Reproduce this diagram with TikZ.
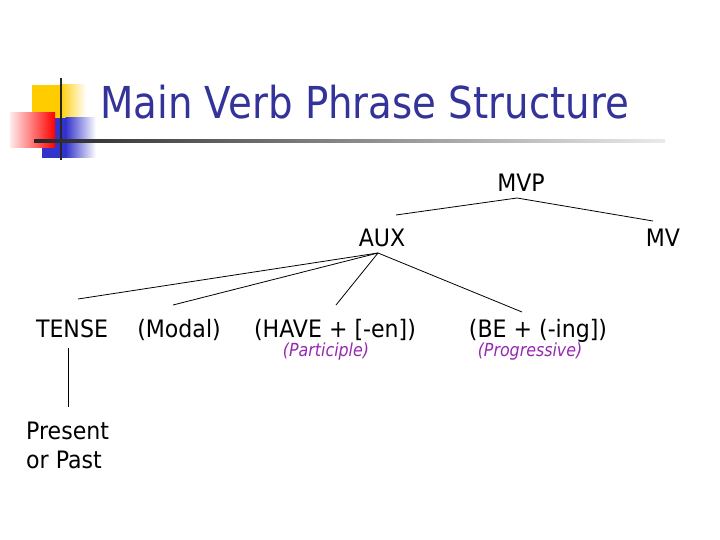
\documentclass[tikz,border=0pt]{standalone}
\usepackage{fontspec}
\setmainfont[FakeStretch=0.88]{DejaVu Sans}
\newfontfamily\treefont[FakeStretch=0.92]{DejaVu Sans}
\definecolor{navy}{RGB}{51,51,153}
\definecolor{purp}{RGB}{150,40,175}
\definecolor{gold}{RGB}{255,204,0}
\definecolor{blu}{RGB}{51,51,204}
\begin{document}
\begin{tikzpicture}[x=1pt,y=-1pt,
  lbl/.style={anchor=base,inner sep=0pt,font=\treefont\fontsize{24}{29}\selectfont},
  sub/.style={anchor=base,inner sep=0pt,font=\fontsize{18}{21}\selectfont\itshape,text=purp},
  edge/.style={draw=black,line width=0.8pt}]
\useasboundingbox[fill=white] (0,0) rectangle (720,540);
% logo
\fill[gold] (32,85) rectangle (60,118);
\shade[left color=gold,right color=white] (59.5,85) rectangle (86,118);
\fill[blu] (42,118) rectangle (66,158);
\shade[left color=blu,right color=white] (65.5,118) rectangle (96,158);
\shade[left color=red!8,right color=red] (10,113) rectangle (55,148);
\draw[line width=2pt,black!85] (61,78) -- (61,160);
\shade[left color=black!85,middle color=black!55,right color=black!8] (34,139.5) rectangle (665,142.5);
% title
\node[anchor=base west,inner sep=0pt,text=navy,font=\fontsize{44}{50}\selectfont] (title) at (100,119) {Main Verb Phrase Structure};
% tree labels
\node[lbl] (mvp) at (521,192) {MVP};
\node[lbl] (aux) at (382,247) {AUX};
\node[lbl] (mv) at (663,247) {MV};
\node[lbl] (tense) at (72,337) {TENSE};
\node[lbl] (modal) at (179,337) {(Modal)};
\node[lbl] (have) at (335,337) {(HAVE + [-en])};
\node[lbl] (be) at (538,337) {(BE + (-ing])};
\node[sub] (part) at (326,356) {(Participle)};
\node[sub] (prog) at (530,356) {(Progressive)};
\node[anchor=north west,inner sep=0pt,align=left,font=\treefont\fontsize{24}{29}\selectfont] (pres) at (26,421.5) {Present\\or Past};
% connector points
\coordinate (mvpB) at (517,198);
\coordinate (auxT) at (396,215);
\coordinate (mvT) at (653,221);
\coordinate (auxB) at (378,253);
\coordinate (tenseT) at (78,299);
\coordinate (modalT) at (173,305);
\coordinate (haveT) at (336,305);
\coordinate (beT) at (522,312);
\coordinate (tenseB) at (68,348);
\coordinate (presT) at (68,407);
\draw[edge] (auxT) -- (mvpB) -- (mvT);
\draw[edge] (auxB) -- (tenseT);
\draw[edge] (auxB) -- (modalT);
\draw[edge] (auxB) -- (haveT);
\draw[edge] (auxB) -- (beT);
\draw[edge] (tenseB) -- (presT);
\end{tikzpicture}
\end{document}
